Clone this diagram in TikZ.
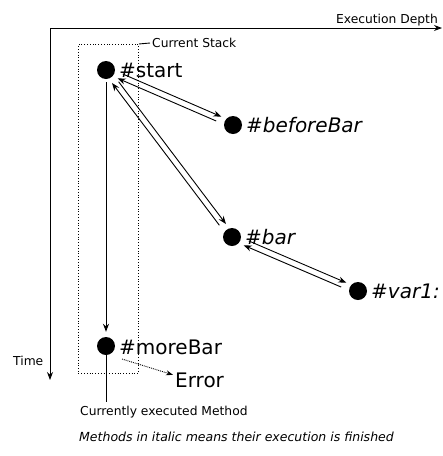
\documentclass[tikz,border=0pt]{standalone}
\usepackage{fontspec}
\setmainfont{DejaVu Sans}
\usetikzlibrary{arrows.meta,calc}
\begin{document}
\begin{tikzpicture}[x=1pt,y=-1pt,
  dot/.style={circle,fill=black,inner sep=0pt,minimum size=18pt},
  big/.style={font=\fontsize{20}{24}\selectfont,inner sep=0pt,anchor=base west},
  bigit/.style={big,font=\fontsize{20}{24}\selectfont\itshape},
  small/.style={font=\fontsize{12.3}{14}\selectfont,inner sep=0pt,anchor=base west},
  arr/.style={line width=0.9pt,-{Stealth[length=8pt,width=6pt]}},
  thin/.style={line width=0.9pt},
]
\useasboundingbox (0,0) rectangle (443,456);
% axes
\coordinate (o) at (50,28);
\coordinate (xe) at (442,28);
\coordinate (ye) at (50,380);
\draw[arr] (o) -- (xe);
\draw[arr] (o) -- (ye);
\node[small,anchor=base east] (ed) at (438,23) {Execution Depth};
\node[small] (time) at (13,365) {Time};
% current stack
\node[draw,dotted,line width=0.8pt,minimum width=60pt,minimum height=329pt,inner sep=0pt,anchor=north west] (stack) at (78,44) {};
\node[small,anchor=west] (cs) at (152,43) {Current Stack};
\draw[thin] (stack.north east) -- ([xshift=-2pt]cs.west);
% dots
\node[dot] (s) at (106,70) {};
\node[dot] (bb) at (233,125) {};
\node[dot] (b) at (232,237) {};
\node[dot] (v) at (358,291) {};
\node[dot] (m) at (106,346) {};
% labels
\node[big] (sl) at (119,77.5) {\#start};
\node[bigit] (bbl) at (246,132.5) {\#beforeBar};
\node[bigit] (bl) at (245,244.5) {\#bar};
\node[bigit] (vl) at (371,298.5) {\#var1:};
\node[big] (ml) at (119,354) {\#moreBar};
\node[big] (err) at (175,387) {Error};
% calls and returns
\draw[arr] ($(s)!17pt!(bb)!3pt!90:(bb)$) -- ($(bb)!14pt!(s)!3pt!-90:(s)$);
\draw[arr] ($(bb)!17pt!(s)!3pt!90:(s)$) -- ($(s)!14pt!(bb)!3pt!-90:(bb)$);
\draw[arr] ($(s)!17pt!(b)!3pt!90:(b)$) -- ($(b)!14pt!(s)!3pt!-90:(s)$);
\draw[arr] ($(b)!17pt!(s)!3pt!90:(s)$) -- ($(s)!14pt!(b)!3pt!-90:(b)$);
\draw[arr] ($(b)!17pt!(v)!3pt!90:(v)$) -- ($(v)!14pt!(b)!3pt!-90:(b)$);
\draw[arr] ($(v)!17pt!(b)!3pt!90:(b)$) -- ($(b)!14pt!(v)!3pt!-90:(v)$);
\draw[arr,shorten <=3pt,shorten >=5pt] (s) -- (m);
% error
\coordinate (e1) at (122,359);
\draw[line width=0.9pt,densely dotted,-{Stealth[length=7pt,width=5pt]}] (e1) -- ($(err.west)+(-2,-5)$);
% current method
\node[small] (cm) at (80,415) {Currently executed Method};
\draw[thin,shorten >=3pt] (m.south) -- (m.south |- cm.north);
% note
\node[font=\fontsize{12.5}{14}\selectfont\itshape,inner sep=0pt,anchor=base west] (note) at (79,441) {Methods in italic means their execution is finished};
\end{tikzpicture}
\end{document}
